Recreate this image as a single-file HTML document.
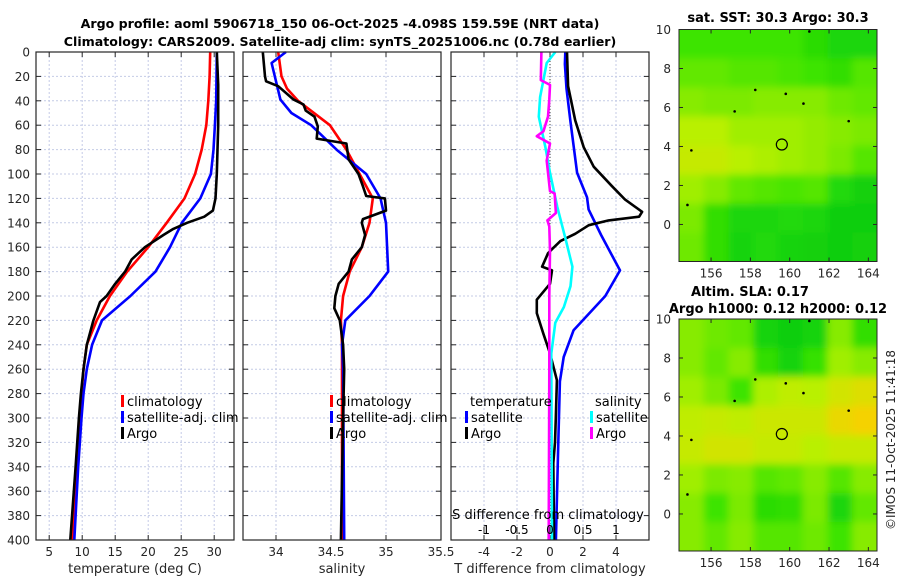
<!DOCTYPE html>
<html><head><meta charset="utf-8"><style>
html,body{margin:0;padding:0;background:#fff;}
svg{display:block;font-family:"DejaVu Sans","Liberation Sans",sans-serif;}
</style></head><body>
<svg id="c" width="900" height="580" viewBox="0 0 900 580" xmlns="http://www.w3.org/2000/svg">
<text x="340" y="28" text-anchor="middle" font-weight="bold" font-size="12.6" fill="#000">Argo profile: aoml 5906718_150 06-Oct-2025 -4.098S 159.59E (NRT data)</text>
<text x="340" y="46" text-anchor="middle" font-weight="bold" font-size="12.6" fill="#000">Climatology: CARS2009. Satellite-adj clim: synTS_20251006.nc (0.78d earlier)</text>
<text x="778" y="22" text-anchor="middle" font-weight="bold" font-size="13">sat. SST: 30.3 Argo: 30.3</text>
<text x="750" y="296" text-anchor="middle" font-weight="bold" font-size="13">Altim. SLA: 0.17</text>
<text x="778" y="313" text-anchor="middle" font-weight="bold" font-size="13">Argo h1000: 0.12 h2000: 0.12</text>
<text transform="translate(895,440) rotate(-90)" text-anchor="middle" font-size="12" fill="#262626">©IMOS 11-Oct-2025 11:41:18</text>
<g id="layer"></g>
</svg>
<script>
// ---------- data ----------
const depthTicks = [0,20,40,60,80,100,120,140,160,180,200,220,240,260,280,300,320,340,360,380,400];
const tempTicks = [5,10,15,20,25,30];
const salTicks = [34,34.5,35,35.5];
const tdiffTicks = [-4,-2,0,2,4];
const sdiffTicks = [-1,-0.5,0,0.5,1];
const sdiffTickLabels = ["-1","-0.5","0","0.5","1"];

const tClimDepth = [0,20,40,60,80,100,120,140,160,180,200,220,240,260,280,300,340,400];
const tClimVal   = [29.4,29.3,29.1,28.8,28.1,27.1,25.5,22.8,20.0,16.8,14.2,12.2,10.7,10.2,9.9,9.6,9.2,8.5];
const tSatDepth = [0,40,60,80,100,120,140,160,180,200,220,240,260,280,300,340,400];
const tSatVal   = [30.4,30.3,30.1,29.9,29.5,27.9,25.1,23.3,21.1,17.3,13.0,11.5,10.7,10.2,9.9,9.4,8.8];
const tArgoDepth = [0,27,60,100,120,130,135,140,145,150,160,170,180,190,200,205,220,240,260,280,300,340,400];
const tArgoVal   = [30.4,30.6,30.6,30.4,30.2,29.8,28.5,25.9,23.8,22.3,19.5,17.5,16.5,15.0,13.7,12.7,11.7,10.7,10.2,9.8,9.5,9.0,8.2];

const sClimDepth = [0,20,30,40,60,80,100,120,140,160,180,200,220,240,400];
const sClimVal   = [34.02,34.05,34.1,34.2,34.49,34.64,34.76,34.88,34.85,34.78,34.67,34.61,34.59,34.6,34.6];
const sSatDepth = [0,9,39,50,60,80,100,120,140,180,200,220,240,260,400];
const sSatVal   = [34.09,33.96,34.04,34.14,34.32,34.55,34.82,34.95,35.0,35.02,34.85,34.63,34.6,34.61,34.62];
const sArgoDepth = [0,20,24,28,39,43,48,53,61,71,75,88,96,100,110,118,120,130,137,140,150,160,170,180,190,200,210,220,240,260,300,400];
const sArgoVal   = [33.88,33.9,33.91,34.02,34.16,34.25,34.27,34.35,34.38,34.37,34.64,34.66,34.72,34.75,34.79,34.82,34.99,35.0,34.79,34.78,34.81,34.78,34.69,34.66,34.57,34.54,34.53,34.58,34.61,34.62,34.61,34.59];

const dtSatDepth = [0,10,30,56,99,119,129,150,179,200,228,250,270,320,400];
const dtSatVal   = [0.93,0.9,1.0,1.23,1.64,2.24,2.34,3.1,4.24,3.35,1.43,0.83,0.6,0.5,0.36];
const dtArgoDepth = [0,28,56,78,94,110,121,131,135,138,142,149,155,162,165,176,179,190,203,214,231,247,269,300,320,337,400];
const dtArgoVal   = [1.03,1.1,1.53,2.04,2.65,3.76,4.55,5.58,5.4,3.56,2.35,1.53,0.63,0.1,-0.12,-0.48,0.12,0.0,-0.8,-0.8,-0.4,0.0,0.42,0.35,0.3,0.2,0.25];
const dsSatDepth = [0,9,37,53,78,99,127,154,176,192,209,222,247,400];
const dsSatVal   = [0.08,-0.05,-0.15,-0.17,-0.07,0,0.11,0.24,0.34,0.31,0.21,0.08,0.02,0.03];
const dsArgoDepth = [0,23,27,39,53,65,69,75,89,114,116,132,138,143,163,200,260,400];
const dsArgoVal   = [-0.13,-0.14,0.0,-0.01,-0.03,-0.1,-0.2,0.0,-0.05,0.0,0.07,0.09,-0.04,-0.01,0.0,-0.01,-0.01,-0.02];

const lonTicks = [156,158,160,162,164];
const latTicks = [0,2,4,6,8,10];
const sstGrid = [
 [1,1,1,1,1,0.7,0.5,0.5],
 [1.3,1.3,1.2,1.2,1.1,1,0.8,1.2],
 [1.6,1.5,1.5,1.6,1.6,1.6,1.4,1.3],
 [2,2,1.8,1.8,1.8,1.7,1.6,1.5],
 [2.2,2.2,2,1.9,1.8,1.7,1.5,1.2],
 [1.8,1.6,1.3,1.2,1.1,1.2,0.6,0.3],
 [1.5,0.8,0.5,0.5,0.6,0.5,0.2,0.2],
 [1.4,0.8,0.4,0.6,0.4,0.3,0.2,0.3]];
const slaGrid = [
 [1.6,1.4,1.3,0.4,0.2,0.4,1.6,0.8],
 [1.6,1.3,1.6,0.8,0.4,0.9,1.8,1.6],
 [1.8,1.5,1.0,1.9,2.1,2.0,2.4,2.6],
 [2.1,2.2,2.1,2.3,2.3,2.3,2.8,3.0],
 [2.2,2.4,2.4,2.2,2.2,2.0,2.2,2.2],
 [1.8,1.5,1.6,1.2,1.3,1.6,1.2,1.6],
 [1.6,1.0,1.5,0.7,0.8,1.5,0.5,1.3],
 [1.6,1.3,1.6,1.2,1.2,1.4,1.0,1.6]];
const floatLon = 159.6, floatLat = 4.1;
const dotLon = [158.25,157.2,159.8,160.7,163.0,155.0,154.8,161.0];
const dotLat = [6.9,5.8,6.7,6.2,5.3,3.8,1.0,9.9];

// ---------- helpers ----------
const NS="http://www.w3.org/2000/svg";
const layer=document.getElementById('layer');
function mk(tag,attrs,parent){const e=document.createElementNS(NS,tag);for(const k in attrs)e.setAttribute(k,attrs[k]);(parent||layer).appendChild(e);return e;}
const Y0=52,Y1=540;
function yDepth(d){return Y0+(d/400)*(Y1-Y0);}
function lin(d0,d1,r0,r1){return v=>r0+(v-d0)/(d1-d0)*(r1-r0);}

const panels=[
 {x0:36,x1:234,sx:lin(3,33,36,234),ticks:tempTicks,labels:tempTicks.map(String),label:'temperature (deg C)',name:'temperature'},
 {x0:243,x1:441,sx:lin(33.7,35.5,243,441),ticks:salTicks,labels:salTicks.map(String),label:'salinity',name:'salinity'},
 {x0:451,x1:649,sx:lin(-6,6,451,649),ticks:tdiffTicks,labels:tdiffTicks.map(String),label:'T difference from climatology',name:'difference'}
];
panels.forEach((p,pi)=>{
  const g=mk('g',{});
  
  
  mk('rect',{x:p.x0,y:Y0,width:p.x1-p.x0,height:Y1-Y0,fill:'#fff'},g);
  depthTicks.forEach(d=>{
    const y=yDepth(d);
    if(d>0&&d<400){const gl=mk('line',{x1:p.x0,x2:p.x1,y1:y,y2:y,stroke:'#c4cbe6','stroke-width':1,'stroke-dasharray':'2,2'},g);
      }
    mk('line',{x1:p.x0,x2:p.x0+5,y1:y,y2:y,stroke:'#262626'},g);
    mk('line',{x1:p.x1-5,x2:p.x1,y1:y,y2:y,stroke:'#262626'},g);
    if(pi===0){const t=mk('text',{x:p.x0-6,y:y+4.5,'text-anchor':'end','font-size':12,fill:'#262626'},g);t.textContent=d;
      }
  });
  p.ticks.forEach((v,i)=>{
    const x=p.sx(v);
    if(x>p.x0+1&&x<p.x1-1){const gl=mk('line',{x1:x,x2:x,y1:Y0,y2:Y1,stroke:'#c4cbe6','stroke-width':1,'stroke-dasharray':'2,2'},g);
      }
    mk('line',{x1:x,x2:x,y1:Y1-5,y2:Y1,stroke:'#262626'},g);
    mk('line',{x1:x,x2:x,y1:Y0,y2:Y0+5,stroke:'#262626'},g);
    const t=mk('text',{x:x,y:556,'text-anchor':'middle','font-size':12,fill:'#262626'},g);t.textContent=p.labels[i];
    
  });
  const xl=mk('text',{x:(p.x0+p.x1)/2,y:573,'text-anchor':'middle','font-size':13,fill:'#262626'},g);xl.textContent=p.label;
  
});

function series(p,depths,vals,color,name,sx){
  const f=sx||p.sx;
  const pts=depths.map((d,i)=>f(vals[i]).toFixed(1)+','+yDepth(d).toFixed(1)).join(' ');
  const e=mk('polyline',{points:pts,fill:'none',stroke:color,'stroke-width':2.6,'stroke-linejoin':'round'});
  
  
}
const P1=panels[0],P2=panels[1],P3=panels[2];
const sdx=lin(-1.5,1.5,451,649);
const zl=mk('line',{x1:P3.sx(0),x2:P3.sx(0),y1:Y0,y2:Y1,stroke:'#444','stroke-width':1,'stroke-dasharray':'1,2'});


series(P1,tClimDepth,tClimVal,'#ff0000','temp-climatology-line');
series(P1,tSatDepth,tSatVal,'#0000ff','temp-satellite-line');
series(P1,tArgoDepth,tArgoVal,'#000','temp-argo-line');
series(P2,sClimDepth,sClimVal,'#ff0000','sal-climatology-line');
series(P2,sSatDepth,sSatVal,'#0000ff','sal-satellite-line');
series(P2,sArgoDepth,sArgoVal,'#000','sal-argo-line');
series(P3,dtSatDepth,dtSatVal,'#0000ff','tdiff-satellite-line');
series(P3,dtArgoDepth,dtArgoVal,'#000','tdiff-argo-line');
series(P3,dsSatDepth,dsSatVal,'#00ffff','sdiff-satellite-line',sdx);
series(P3,dsArgoDepth,dsArgoVal,'#ff00ff','sdiff-argo-line',sdx);

panels.forEach(p=>{const b=mk('rect',{x:p.x0,y:Y0,width:p.x1-p.x0,height:Y1-Y0,fill:'none',stroke:'#262626','stroke-width':1.2});
  });

sdiffTicks.forEach((v,i)=>{
  const x=sdx(v);
  mk('line',{x1:x,x2:x,y1:527,y2:534,stroke:'#262626'});
  const t=mk('text',{x:x,y:534,'text-anchor':'middle','font-size':12,fill:'#000'});t.textContent=sdiffTickLabels[i];
  
});
const st=mk('text',{x:548,y:519,'text-anchor':'middle','font-size':13,fill:'#000'});st.textContent='S difference from climatology';


function legItem(x,y,color,label,name){
  const g=mk('g',{});
  
  
  if(color)mk('rect',{x:x-6,y:y-6,width:3,height:12,fill:color},g);
  const t=mk('text',{x:x,y:y+5,'font-size':13,fill:'#000'},g);t.textContent=label;
}
[[127,P1],[336,P2]].forEach(([lx,p])=>{
  legItem(lx,401,'#ff0000','climatology','legend-climatology');
  legItem(lx,417,'#0000ff','satellite-adj. clim','legend-satellite-adj');
  legItem(lx,433,'#000','Argo','legend-argo');
});
legItem(470,401,null,'temperature','legend-temperature-header');
legItem(471,417,'#0000ff','satellite','legend-temp-satellite');
legItem(471,433,'#000','Argo','legend-temp-argo');
legItem(595,401,null,'salinity','legend-salinity-header');
legItem(596,417,'#00ffff','satellite','legend-sal-satellite');
legItem(596,433,'#ff00ff','Argo','legend-sal-argo');

// ---------- maps ----------
function colorOf(v){
  const stops=[[0,[0,200,20]],[1,[60,228,0]],[2,[185,240,0]],[3,[245,210,0]]];
  v=Math.max(0,Math.min(3,v));
  for(let i=0;i<3;i++){const [a,ca]=stops[i],[b,cb]=stops[i+1];
    if(v<=b){const t=(v-a)/(b-a);return 'rgb('+ca.map((c,k)=>Math.round(c+(cb[k]-c)*t)).join(',')+')';}}
}
const defs=mk('defs',{});
const flt=mk('filter',{id:'bl',x:'-10%',y:'-10%',width:'120%',height:'120%'},defs);
mk('feGaussianBlur',{stdDeviation:4},flt);
function drawMap(grid,top,name,idx){
  const L=679,R=877,T=top,B=top+232;
  const sx=lin(154.37,164.44,L,R), sy=lin(10,-1.9,T,B);
  const cp=mk('clipPath',{id:'cp'+idx},defs);
  mk('rect',{x:L,y:T,width:R-L,height:B-T},cp);
  const g=mk('g',{'clip-path':'url(#cp'+idx+')'});
  
  
  mk('rect',{x:L,y:T,width:R-L,height:B-T,fill:colorOf(1.4)},g);
  const cells=mk('g',{filter:'url(#bl)'},g);
  const nr=grid.length,nc=grid[0].length;
  const cw=(R-L)/nc, ch=(B-T)/nr;
  grid.forEach((row,r)=>row.forEach((v,c)=>{
    const x=L+c*cw, y=T+r*ch;
    const e=mk('rect',{x:(c===0?x-20:x),y:(r===0?y-20:y),width:cw+(c===0||c===nc-1?21:1),height:ch+(r===0||r===nr-1?21:1),fill:colorOf(v)},cells);
    
    
  }));
  dotLon.forEach((lo,i)=>{const d=mk('circle',{cx:sx(lo),cy:sy(dotLat[i]),r:1.3,fill:'#000'},g);
    });
  const fc=mk('circle',{cx:sx(floatLon),cy:sy(floatLat),r:5.5,fill:'none',stroke:'#000','stroke-width':1.2},g);
  
  mk('rect',{x:L,y:T,width:R-L,height:B-T,fill:'none',stroke:'#262626','stroke-width':1});
  lonTicks.forEach(lo=>{const x=sx(lo);
    mk('line',{x1:x,x2:x,y1:B-4,y2:B,stroke:'#262626'});mk('line',{x1:x,x2:x,y1:T,y2:T+4,stroke:'#262626'});
    const t=mk('text',{x:x,y:B+16,'text-anchor':'middle','font-size':12,fill:'#262626'});t.textContent=lo;
    });
  latTicks.forEach(la=>{const y=sy(la);
    mk('line',{x1:L,x2:L+4,y1:y,y2:y,stroke:'#262626'});mk('line',{x1:R-4,x2:R,y1:y,y2:y,stroke:'#262626'});
    const t=mk('text',{x:L-8,y:y+4.5,'text-anchor':'end','font-size':12,fill:'#262626'});t.textContent=la;
    });
}
drawMap(sstGrid,29.5,'sst-map',0);
drawMap(slaGrid,319,'sla-map',1);
</script>
</body></html>
